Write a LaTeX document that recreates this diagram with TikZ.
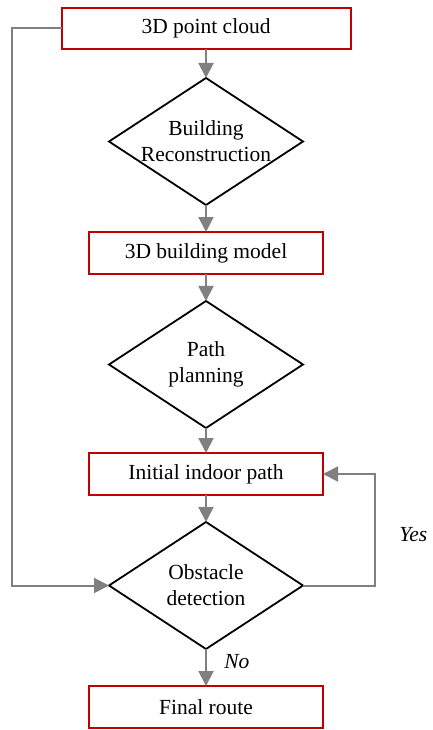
\documentclass[tikz,border=0pt]{standalone}
\usepackage{fontspec}
\setmainfont{Liberation Serif}
\usepackage{tikz}
\usetikzlibrary{shapes.geometric, arrows.meta, positioning, calc}
\definecolor{boxred}{RGB}{192,0,0}
\definecolor{arrowgray}{RGB}{128,128,128}
\tikzstyle{arrow} = [line width=2pt, draw=arrowgray, -{Triangle[length=15pt, width=15pt]}]

\begin{document}
\begin{tikzpicture}[
      process/.style={rectangle, draw=boxred, line width=2pt, outer sep=0pt, minimum height=42pt, minimum width=234pt, align=center, font=\fontsize{21.5}{26}\selectfont},
      decision/.style={diamond, draw=black, line width=1.8pt, outer sep=0pt, shape aspect=1.52, inner sep=0pt, minimum width=194pt, minimum height=127pt, align=center, font=\fontsize{21.5}{26}\selectfont},
      answer/.style={font=\fontsize{21.5}{26}\selectfont\itshape},
    ]
    \useasboundingbox (0,0) rectangle (432pt,-730pt);

    % Nodes
    \node[process, minimum width=289pt, minimum height=41pt] (cloud) at (206pt,-28.5pt) {3D point cloud};
    \node[decision, below=29pt of cloud] (recon) {Building\\Reconstruction};
    \node[process, below=27pt of recon] (model) {3D building model};
    \node[decision, below=27pt of model] (planning) {Path\\planning};
    \node[process, below=25pt of planning] (initial) {Initial indoor path};
    \node[decision, below=27pt of initial] (obstacle) {Obstacle\\detection};
    \node[process, below=37pt of obstacle] (final) {Final route};

    % Edges
    \draw[arrow] (cloud) -- (recon);
    \draw[arrow] (recon) -- (model);
    \draw[arrow] (model) -- (planning);
    \draw[arrow] (planning) -- (initial);
    \draw[arrow] (initial) -- (obstacle);
    \draw[arrow] (obstacle) -- node[answer, pos=0.35, right=14pt] (no) {No} (final);
    \draw[arrow] (cloud.west) -- ++(-50pt,0) |- (obstacle.west);
    \draw[arrow] (obstacle.east) -- ++(72pt,0) |- node[answer, pos=0.23, right=20pt] (yes) {Yes} (initial.east);

  \end{tikzpicture}
\end{document}
